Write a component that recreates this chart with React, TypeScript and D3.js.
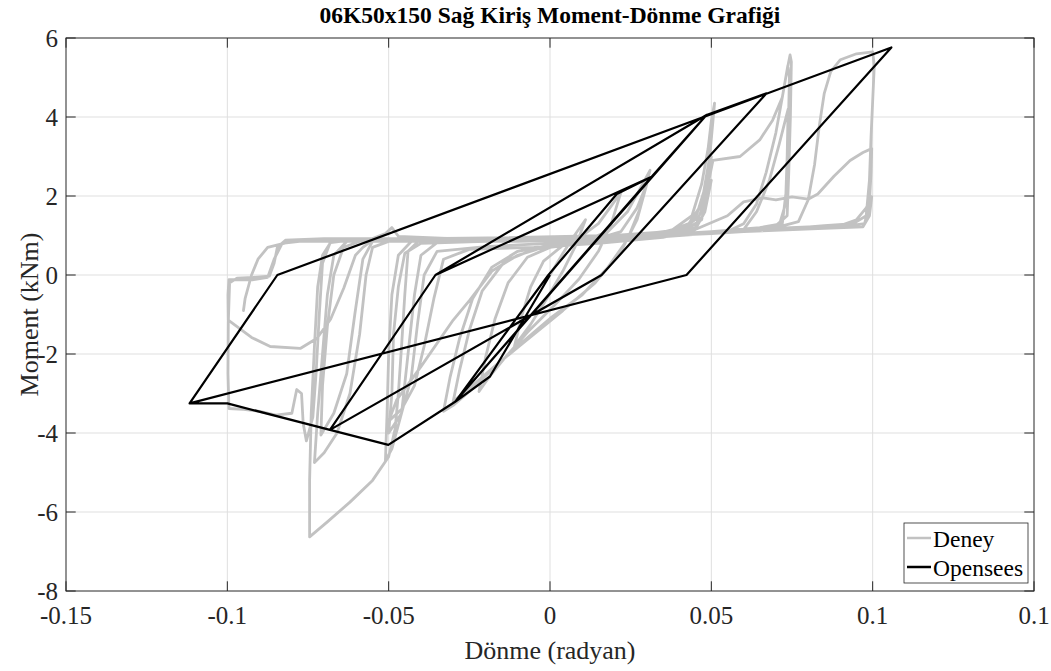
import React from "react";
import * as d3 from "d3";

// ---------- data ----------
const xTicks = [-0.15, -0.1, -0.05, 0, 0.05, 0.1, 0.15];
const xTickLabels = ["-0.15", "-0.1", "-0.05", "0", "0.05", "0.1", "0.1"];
const yTicks = [-8, -6, -4, -2, 0, 2, 4, 6];
const yTickLabels = ["-8", "-6", "-4", "-2", "0", "2", "4", "6"];

// Opensees model response (rotation [rad], moment [kNm])
const openseesPath: [number, number][] = [
  [0, 0], [-0.0186, -2.57], [-0.0294, -3.21], [-0.0005, 0], [0.0207, 2.05], [0.0315, 2.49],
  [-0.0294, -3.21], [-0.0501, -4.3], [-0.0682, -3.92], [-0.0355, 0], [0.0315, 2.49], [0.0485, 4.05],
  [-0.0294, -3.21], [-0.0501, -4.3], [-0.0682, -3.92], [-0.0355, 0], [0.0485, 4.05], [0.0671, 4.6],
  [0.016, 0], [-0.0682, -3.92], [-0.1, -3.25], [-0.1117, -3.25], [-0.0845, 0], [0.1058, 5.76],
  [0.0423, 0], [-0.1117, -3.25],
];

const deneySmall: [number, number][] = [
  [0, 0], [0.004, 0.55], [0.008, 1.05], [0.011, 1.4], [0.008, 0.75], [0.004, 0.1], [-0.001, -0.6],
  [-0.006, -1.25], [-0.011, -1.8], [-0.009, -1.1], [-0.006, -0.3], [-0.002, 0.35],
  [0.004, 0.75], [0.01, 1.0], [0.015, 1.3], [0.019, 1.75], [0.022, 2.1], [0.019, 1.3], [0.015, 0.6],
  [0.009, -0.1], [0.001, -0.8], [-0.007, -1.45], [-0.014, -2.1], [-0.019, -2.6], [-0.022, -2.95],
  [-0.02, -2.1], [-0.017, -1.1], [-0.013, -0.2], [-0.007, 0.45], [0, 0.7],
];
const deney030: [number, number][] = [
  [0.01, 0.85], [0.018, 1.1], [0.024, 1.6], [0.028, 2.2], [0.031, 2.65], [0.028, 1.7], [0.024, 0.9],
  [0.018, 0.2], [0.01, -0.5], [0, -1.1], [-0.01, -1.8], [-0.018, -2.4], [-0.025, -2.95], [-0.03, -3.3],
  [-0.033, -3.45], [-0.031, -2.6], [-0.028, -1.6], [-0.024, -0.6], [-0.018, 0.2], [-0.01, 0.6], [0, 0.75],
  [0.012, 0.85], [0.022, 1.1], [0.027, 1.7], [0.03, 2.3], [0.027, 1.4], [0.022, 0.6], [0.014, -0.2],
  [0.004, -0.9], [-0.008, -1.7], [-0.017, -2.3], [-0.024, -2.8], [-0.03, -3.2], [-0.028, -2.4],
  [-0.025, -1.4], [-0.021, -0.4], [-0.014, 0.35], [-0.005, 0.65],
];
const deney050: [number, number][] = [
  [0.01, 0.8], [0.02, 0.88], [0.03, 0.98], [0.038, 1.15], [0.044, 1.5], [0.047, 2.3], [0.049, 3.2],
  [0.05, 3.9], [0.051, 4.35], [0.0495, 3.0], [0.047, 1.8], [0.043, 1.2], [0.035, 1.0], [0.02, 0.9],
  [0, 0.88], [-0.02, 0.85], [-0.035, 0.82], [-0.04, 0.5], [-0.042, -0.5], [-0.044, -2.0], [-0.046, -3.5],
  [-0.049, -4.4], [-0.051, -4.7], [-0.0505, -3.5], [-0.05, -2.0], [-0.049, -0.5], [-0.047, 0.5],
  [-0.043, 0.85], [-0.03, 0.9],
  [-0.01, 0.9], [0.01, 0.92], [0.03, 1.0], [0.04, 1.1], [0.045, 1.4], [0.048, 2.2], [0.05, 3.0],
  [0.049, 2.2], [0.047, 1.4], [0.04, 1.05], [0.02, 0.9], [0, 0.8], [-0.02, 0.72], [-0.035, 0.6],
  [-0.039, 0.0], [-0.041, -1.2], [-0.043, -2.6], [-0.046, -3.5], [-0.05, -4.0], [-0.049, -3.0],
  [-0.0485, -1.5], [-0.047, -0.3], [-0.045, 0.55], [-0.04, 0.8],
  [-0.02, 0.85], [0.0, 0.9], [0.02, 0.95], [0.035, 1.05], [0.043, 1.3], [0.047, 1.8], [0.05, 2.4],
  [0.048, 1.6], [0.045, 1.15], [0.035, 0.95], [0.015, 0.8], [-0.005, 0.7], [-0.025, 0.65], [-0.033, 0.4],
  [-0.036, -0.6], [-0.039, -1.8], [-0.042, -2.8], [-0.046, -3.4], [-0.05, -3.7], [-0.0475, -3.16],
  [-0.04, -2.32], [-0.03, -1.14], [-0.0248, -0.63], [-0.018, 0.1], [-0.01, 0.5],
];
const deney075: [number, number][] = [
  [0.0, 0.75], [0.02, 0.88], [0.04, 1.0], [0.055, 1.1], [0.06, 1.3], [0.064, 1.8], [0.067, 2.6],
  [0.07, 3.6], [0.072, 4.5], [0.0735, 5.2], [0.0744, 5.57], [0.0748, 5.4], [0.0745, 4.0], [0.074, 2.6],
  [0.0735, 1.5], [0.07, 1.25], [0.06, 1.15], [0.045, 1.05], [0.03, 0.98], [0.01, 0.9], [-0.01, 0.88],
  [-0.03, 0.9], [-0.04, 0.92], [-0.044, 0.6], [-0.045, -0.5], [-0.046, -1.8], [-0.047, -3.0],
  [-0.048, -3.9], [-0.05, -4.6], [-0.055, -5.2], [-0.062, -5.75], [-0.069, -6.25], [-0.0745, -6.63],
  [-0.0745, -5.2], [-0.074, -3.5], [-0.073, -1.8], [-0.072, -0.3], [-0.0705, 0.5], [-0.068, 0.82],
  [-0.06, 0.9], [-0.055, 0.92], [-0.051, 1.05], [-0.049, 1.2], [-0.047, 0.98], [-0.03, 0.92],
  [-0.01, 0.9], [0.01, 0.95], [0.03, 1.05], [0.045, 1.2], [0.048, 1.9], [0.0505, 2.9], [0.0589, 3.0],
  [0.065, 3.42], [0.069, 3.92], [0.072, 4.5], [0.0737, 5.3], [0.0742, 5.0], [0.0738, 3.5], [0.0733, 2.2],
  [0.072, 1.3], [0.065, 1.2], [0.05, 1.1], [0.03, 1.0], [0.0, 0.92], [-0.03, 0.88], [-0.05, 0.85],
  [-0.055, 0.7], [-0.057, 0.0], [-0.059, -1.5], [-0.062, -3.0], [-0.066, -4.0], [-0.07, -4.5],
  [-0.073, -4.75], [-0.072, -3.5], [-0.0705, -2.0], [-0.069, -0.5], [-0.067, 0.5], [-0.063, 0.85],
  [-0.05, 0.9],
  [-0.03, 0.9], [0.0, 0.92], [0.03, 1.0], [0.05, 1.08], [0.06, 1.15], [0.064, 1.6], [0.068, 2.4],
  [0.071, 3.3], [0.0738, 4.2], [0.0735, 3.0], [0.073, 1.8], [0.071, 1.25], [0.06, 1.12], [0.04, 1.0],
  [0.02, 0.9], [-0.01, 0.85], [-0.04, 0.85], [-0.055, 0.85], [-0.058, 0.4], [-0.0605, -1.0],
  [-0.063, -2.5], [-0.067, -3.5], [-0.071, -4.05], [-0.0705, -2.8], [-0.069, -1.3], [-0.067, 0.0],
  [-0.064, 0.7], [-0.058, 0.88],
];
const deney100: [number, number][] = [
  [-0.04, 0.9], [0.0, 0.95], [0.04, 1.05], [0.07, 1.2], [0.077, 1.35], [0.08, 1.9], [0.082, 2.8],
  [0.0835, 3.8], [0.085, 4.6], [0.087, 5.15], [0.09, 5.45], [0.095, 5.6], [0.1, 5.65], [0.1005, 5.3],
  [0.1, 4.4], [0.0995, 3.5], [0.099, 2.4], [0.098, 1.5], [0.094, 1.3], [0.085, 1.25], [0.07, 1.15],
  [0.05, 1.05], [0.03, 0.98], [0.0, 0.9], [-0.03, 0.88], [-0.06, 0.88], [-0.068, 0.85], [-0.0705, 0.3],
  [-0.0715, -1.0], [-0.0725, -2.5], [-0.0735, -3.6], [-0.0755, -4.2], [-0.0765, -3.75], [-0.077, -3.0],
  [-0.0785, -2.9], [-0.08, -3.5], [-0.085, -3.55], [-0.09, -3.45], [-0.095, -3.4], [-0.0995, -3.38],
  [-0.0998, -2.5], [-0.0997, -1.2], [-0.0993, -0.2], [-0.097, -0.08], [-0.092, -0.06], [-0.087, -0.03],
  [-0.0855, 0.3], [-0.0845, 0.7], [-0.082, 0.88], [-0.07, 0.92],
  [-0.04, 0.92], [-0.01, 0.95], [0.02, 1.0], [0.045, 1.15], [0.055, 1.5], [0.06, 1.85], [0.066, 1.95],
  [0.07, 1.9], [0.075, 1.98], [0.08, 1.92], [0.083, 2.05], [0.088, 2.5], [0.093, 2.9], [0.097, 3.1],
  [0.0997, 3.2], [0.0995, 2.6], [0.099, 1.8], [0.0975, 1.3], [0.09, 1.22], [0.075, 1.18], [0.05, 1.05],
  [0.02, 0.95], [-0.01, 0.9], [-0.04, 0.9], [-0.055, 0.88], [-0.058, 0.7], [-0.0603, 0.5],
  [-0.0639, -0.33], [-0.068, -1.12], [-0.0722, -1.6], [-0.0774, -1.86], [-0.0867, -1.81],
  [-0.0925, -1.58], [-0.0997, -1.14], [-0.0998, -0.5], [-0.0995, -0.12], [-0.092, -0.12],
  [-0.0875, -0.06], [-0.0855, 0.4], [-0.083, 0.8], [-0.075, 0.88],
  [-0.05, 0.9], [-0.02, 0.92], [0.01, 0.95], [0.04, 1.05], [0.06, 1.15], [0.08, 1.22], [0.09, 1.25],
  [0.095, 1.4], [0.098, 1.7], [0.0997, 1.98], [0.099, 1.5], [0.097, 1.22], [0.085, 1.18], [0.06, 1.1],
  [0.03, 0.98], [0.0, 0.9], [-0.03, 0.85], [-0.06, 0.85], [-0.08, 0.85], [-0.0875, 0.7],
  [-0.0905, 0.4], [-0.0925, 0.0], [-0.0945, -0.6], [-0.095, -0.9],
];

const deneyPath: [number, number][] = [...deneySmall, ...deney030, ...deney050, ...deney075, ...deney100];

const title = "06K50x150 Sağ Kiriş Moment-Dönme Grafiği";
const xLabel = "Dönme (radyan)";
const yLabel = "Moment (kNm)";
const legendItems = [
  { name: "Deney", color: "#c2c2c2" },
  { name: "Opensees", color: "#000000" },
];

// ---------- layout ----------
const W = 1051;
const H = 671;
const plot = { left: 66, right: 1034, top: 38, bottom: 591 };
const axisColor = "#262626";
const font = "'Liberation Serif', 'Times New Roman', serif";

export default function App() {
  const x = d3.scaleLinear().domain([-0.15, 0.15]).range([plot.left, plot.right]);
  const y = d3.scaleLinear().domain([-8, 6]).range([plot.bottom, plot.top]);
  const line = d3
    .line<[number, number]>()
    .x((d) => x(d[0]))
    .y((d) => y(d[1]));
  const tickLen = 9.7;

  return (
    <svg
      width={W}
      height={H}
      style={{ position: "absolute", left: 0, top: 0, background: "#fff" }}
      fontFamily={font}
    >
      <rect x={0} y={0} width={W} height={H} fill="#fff" />
      {/* grid */}
      <g stroke="#dfdfdf" strokeWidth={1}>
        {xTicks.slice(1, -1).map((t) => (
          <line key={"gx" + t} x1={x(t)} x2={x(t)} y1={plot.top} y2={plot.bottom} />
        ))}
        {yTicks.slice(1, -1).map((t) => (
          <line key={"gy" + t} x1={plot.left} x2={plot.right} y1={y(t)} y2={y(t)} />
        ))}
      </g>

      {/* data */}
      <path d={line(deneyPath) || ""} fill="none" stroke="#c2c2c2" strokeWidth={2.8} strokeLinejoin="round" strokeLinecap="round" />
      <path d={line(openseesPath) || ""} fill="none" stroke="#000" strokeWidth={2.2} strokeLinejoin="round" />

      {/* axes box and ticks */}
      <rect
        x={plot.left}
        y={plot.top}
        width={plot.right - plot.left}
        height={plot.bottom - plot.top}
        fill="none"
        stroke={axisColor}
        strokeWidth={1}
      />
      <g stroke={axisColor} strokeWidth={1}>
        {xTicks.map((t) => (
          <g key={"tx" + t}>
            <line x1={x(t)} x2={x(t)} y1={plot.bottom} y2={plot.bottom - tickLen} />
            <line x1={x(t)} x2={x(t)} y1={plot.top} y2={plot.top + tickLen} />
          </g>
        ))}
        {yTicks.map((t) => (
          <g key={"ty" + t}>
            <line x1={plot.left} x2={plot.left + tickLen} y1={y(t)} y2={y(t)} />
            <line x1={plot.right} x2={plot.right - tickLen} y1={y(t)} y2={y(t)} />
          </g>
        ))}
      </g>

      {/* tick labels */}
      <g fill={axisColor} fontSize={25}>
        {xTicks.map((t, i) => (
          <text key={"lx" + t} x={x(t)} y={plot.bottom + 33} textAnchor="middle">
            {xTickLabels[i]}
          </text>
        ))}
        {yTicks.map((t, i) => (
          <text key={"ly" + t} x={plot.left - 8} y={y(t) + 8.5} textAnchor="end">
            {yTickLabels[i]}
          </text>
        ))}
      </g>

      {/* axis labels */}
      <text x={x(0)} y={659} textAnchor="middle" fontSize={26} fill={axisColor}>
        {xLabel}
      </text>
      <text
        transform={`translate(38, ${(plot.top + plot.bottom) / 2}) rotate(-90)`}
        textAnchor="middle"
        fontSize={26}
        fill={axisColor}
      >
        {yLabel}
      </text>

      {/* title */}
      <text x={x(0)} y={23} textAnchor="middle" fontSize={23.5} fontWeight="bold" fill="#000">
        {title}
      </text>

      {/* legend */}
      <g>
        <rect x={904} y={523} width={124} height={60} fill="#fff" stroke={axisColor} strokeWidth={0.8} />
        {legendItems.map((it, i) => {
          const cy = 538 + i * 29;
          return (
            <g key={it.name}>
              <line x1={907} x2={931} y1={cy} y2={cy} stroke={it.color} strokeWidth={2.5} />
              <text x={933} y={cy + 8.5} fontSize={23.5} fill="#000">
                {it.name}
              </text>
            </g>
          );
        })}
      </g>
    </svg>
  );
}
